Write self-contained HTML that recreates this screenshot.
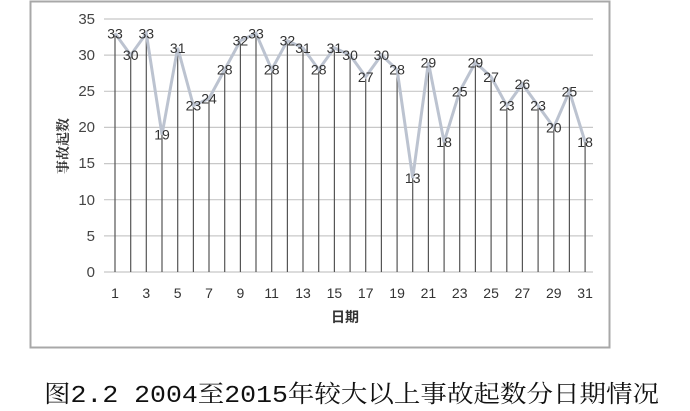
<!DOCTYPE html>
<html><head><meta charset="utf-8"><style>
html,body{margin:0;padding:0;background:#fff;}
svg{display:block;}
</style></head><body>
<svg width="690" height="411" xmlns="http://www.w3.org/2000/svg">
<rect x="30.5" y="1.5" width="579" height="346" fill="#fff" stroke="#a8a8a8" stroke-width="2"/>
<g stroke="#c8c8c8" stroke-width="1.2">
<line x1="104" x2="593" y1="19" y2="19"/>
<line x1="104" x2="593" y1="55.1" y2="55.1"/>
<line x1="104" x2="593" y1="91.3" y2="91.3"/>
<line x1="104" x2="593" y1="127.4" y2="127.4"/>
<line x1="104" x2="593" y1="163.6" y2="163.6"/>
<line x1="104" x2="593" y1="199.7" y2="199.7"/>
<line x1="104" x2="593" y1="235.9" y2="235.9"/>
<line x1="104" x2="593" y1="272" y2="272"/>
</g>
<g font-family="Liberation Sans, sans-serif" font-size="15" fill="#444" text-anchor="end">
<text x="95" y="24">35</text><text x="95" y="60">30</text><text x="95" y="96">25</text><text x="95" y="132">20</text><text x="95" y="168">15</text><text x="95" y="205">10</text><text x="95" y="241">5</text><text x="95" y="277">0</text>
</g>
<text transform="translate(68,146) rotate(-90)" font-family="Noto Serif CJK SC, serif" font-weight="bold" font-size="14" fill="#333" text-anchor="middle">事故起数</text>
<text x="345" y="322" font-family="Noto Sans CJK SC, sans-serif" font-weight="bold" font-size="14" fill="#333" text-anchor="middle">日期</text>
<path stroke="#555" stroke-width="1.2" fill="none" d="M115 33.4V272M130.7 55.1V272M146.3 33.4V272M162 134.6V272M177.7 47.9V272M193.4 105.7V272M209 98.5V272M224.7 69.6V272M240.4 40.7V272M256 33.4V272M271.7 69.6V272M287.4 40.7V272M303 47.9V272M318.7 69.6V272M334.4 47.9V272M350.1 55.1V272M365.7 76.8V272M381.4 55.1V272M397.1 69.6V272M412.7 178V272M428.4 62.4V272M444.1 141.9V272M459.7 91.3V272M475.4 62.4V272M491.1 76.8V272M506.8 105.7V272M522.4 84V272M538.1 105.7V272M553.8 127.4V272M569.4 91.3V272M585.1 141.9V272"/>
<polyline fill="none" stroke="#bcc3d0" stroke-width="3" points="115,33.4 130.7,55.1 146.3,33.4 162,134.6 177.7,47.9 193.4,105.7 209,98.5 224.7,69.6 240.4,40.7 256,33.4 271.7,69.6 287.4,40.7 303,47.9 318.7,69.6 334.4,47.9 350.1,55.1 365.7,76.8 381.4,55.1 397.1,69.6 412.7,178 428.4,62.4 444.1,141.9 459.7,91.3 475.4,62.4 491.1,76.8 506.8,105.7 522.4,84 538.1,105.7 553.8,127.4 569.4,91.3 585.1,141.9"/>
<g font-family="Liberation Sans, sans-serif" font-size="14" fill="#333" text-anchor="middle">
<text x="115" y="38.4">33</text><text x="130.7" y="60.1">30</text><text x="146.3" y="38.4">33</text><text x="162" y="139.6">19</text><text x="177.7" y="52.9">31</text><text x="193.4" y="110.7">23</text><text x="209" y="103.5">24</text><text x="224.7" y="74.6">28</text><text x="240.4" y="45.7">32</text><text x="256" y="38.4">33</text><text x="271.7" y="74.6">28</text><text x="287.4" y="45.7">32</text><text x="303" y="52.9">31</text><text x="318.7" y="74.6">28</text><text x="334.4" y="52.9">31</text><text x="350.1" y="60.1">30</text><text x="365.7" y="81.8">27</text><text x="381.4" y="60.1">30</text><text x="397.1" y="74.6">28</text><text x="412.7" y="183">13</text><text x="428.4" y="67.4">29</text><text x="444.1" y="146.9">18</text><text x="459.7" y="96.3">25</text><text x="475.4" y="67.4">29</text><text x="491.1" y="81.8">27</text><text x="506.8" y="110.7">23</text><text x="522.4" y="89">26</text><text x="538.1" y="110.7">23</text><text x="553.8" y="132.4">20</text><text x="569.4" y="96.3">25</text><text x="585.1" y="146.9">18</text>
</g>
<g font-family="Liberation Sans, sans-serif" font-size="14" fill="#333" text-anchor="middle">
<text x="115" y="298">1</text><text x="146.3" y="298">3</text><text x="177.7" y="298">5</text><text x="209" y="298">7</text><text x="240.4" y="298">9</text><text x="271.7" y="298">11</text><text x="303" y="298">13</text><text x="334.4" y="298">15</text><text x="365.7" y="298">17</text><text x="397.1" y="298">19</text><text x="428.4" y="298">21</text><text x="459.7" y="298">23</text><text x="491.1" y="298">25</text><text x="522.4" y="298">27</text><text x="553.8" y="298">29</text><text x="585.1" y="298">31</text>
</g>
<text x="44" y="402" font-family="Liberation Mono, Noto Serif CJK SC, monospace" font-size="24" fill="#111" textLength="615" lengthAdjust="spacingAndGlyphs">图2.2 2004至2015年较大以上事故起数分日期情况</text>
</svg>
</body></html>
